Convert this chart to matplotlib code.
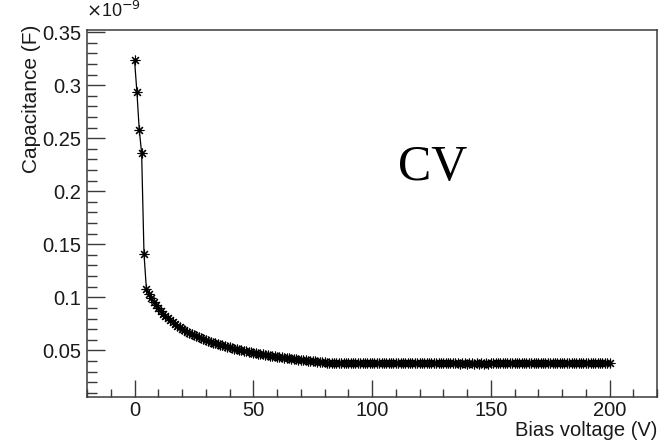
import numpy as np
import matplotlib
matplotlib.use("Agg")
import matplotlib.pyplot as plt
from matplotlib.ticker import MultipleLocator, FuncFormatter

# Bias voltage steps (V)
voltage = np.arange(0, 201)

# Capacitance in units of 1e-9 F
cap_nF = [
    0.324, 0.294, 0.258, 0.236, 0.141,
    0.108, 0.1034, 0.0994, 0.0957, 0.0925, 0.0896, 0.0869, 0.0844, 0.0822, 0.0801,
    0.0782, 0.0764, 0.0747, 0.0731, 0.0716, 0.0702, 0.0689, 0.0677, 0.0665, 0.0654,
    0.0643, 0.0633, 0.0623, 0.0614, 0.0605, 0.0597, 0.0589, 0.0581, 0.0573, 0.0566,
    0.0559, 0.0553, 0.0546, 0.0540, 0.0534, 0.0528, 0.0522, 0.0517, 0.0512, 0.0506,
    0.0501, 0.0497, 0.0492, 0.0487, 0.0483, 0.0479, 0.0474, 0.0470, 0.0466, 0.0462,
    0.0458, 0.0455, 0.0451, 0.0448, 0.0444, 0.0441, 0.0437, 0.0434, 0.0431, 0.0428,
    0.0425, 0.0422, 0.0419, 0.0416, 0.0413, 0.0411, 0.0408, 0.0405, 0.0403, 0.0400,
    0.0398, 0.0395, 0.0393, 0.0391, 0.0389, 0.0387, 0.0385, 0.0383, 0.0381, 0.0380,
    0.0379, 0.0378, 0.0380, 0.0377, 0.0379, 0.0378, 0.0376, 0.0379, 0.0378, 0.0380,
    0.0377, 0.0378, 0.0379, 0.0376, 0.0378, 0.0380, 0.0377, 0.0378, 0.0379, 0.0377,
    0.0378, 0.0380, 0.0377, 0.0379, 0.0378, 0.0376, 0.0378, 0.0379, 0.0377, 0.0378,
    0.0380, 0.0377, 0.0378, 0.0379, 0.0376, 0.0378, 0.0377, 0.0379, 0.0378, 0.0376,
    0.0378, 0.0377, 0.0379, 0.0378, 0.0376, 0.0377, 0.0378, 0.0376, 0.0377, 0.0378,
    0.0376, 0.0377, 0.0375, 0.0377, 0.0376, 0.0375, 0.0377, 0.0376, 0.0375, 0.0376,
    0.0375, 0.0376, 0.0374, 0.0376, 0.0375, 0.0377, 0.0376, 0.0378, 0.0377, 0.0379,
    0.0378, 0.0377, 0.0379, 0.0378, 0.0376, 0.0378, 0.0379, 0.0377, 0.0378, 0.0379,
    0.0377, 0.0378, 0.0380, 0.0378, 0.0377, 0.0379, 0.0378, 0.0376, 0.0378, 0.0379,
    0.0377, 0.0378, 0.0379, 0.0377, 0.0378, 0.0380, 0.0378, 0.0377, 0.0379, 0.0378,
    0.0376, 0.0378, 0.0379, 0.0377, 0.0378, 0.0379, 0.0377, 0.0378, 0.0380, 0.0378,
    0.0377, 0.0379, 0.0378, 0.0377, 0.0379, 0.0378,
]

x_label = "Bias voltage (V)"
y_label = "Capacitance (F)"
annotation = "CV"

FONT = "Liberation Sans"
plt.rcParams["font.family"] = [FONT, "DejaVu Sans"]

fig = plt.figure(figsize=(6.62, 4.42), dpi=100)
ax = fig.add_axes([87 / 662, 45 / 442, 570 / 662, 367 / 442])

ax.plot(voltage, cap_nF, color="black", lw=0.9,
        marker=(8, 2, 0), markersize=7, markeredgewidth=0.8,
        markeredgecolor="black", markerfacecolor="black")

ax.set_xlim(-20, 220)
ax.set_ylim(0.006, 0.352)

ax.xaxis.set_major_locator(MultipleLocator(50))
ax.xaxis.set_minor_locator(MultipleLocator(10))
ax.yaxis.set_major_locator(MultipleLocator(0.05))
ax.yaxis.set_minor_locator(MultipleLocator(0.01))
ax.yaxis.set_major_formatter(FuncFormatter(lambda v, p: "%g" % round(v, 4)))
ax.xaxis.set_major_formatter(FuncFormatter(lambda v, p: "%g" % v))

frame_col = "#3a3a3a"
ax.tick_params(which="both", direction="in", top=False, right=False,
               colors=frame_col, labelcolor="#1a1a1a", labelsize=14.5)
ax.tick_params(axis="y", which="major", length=13, width=1, pad=4)
ax.tick_params(axis="y", which="minor", length=7, width=1)
ax.tick_params(axis="x", which="major", length=12, width=1, pad=3)
ax.tick_params(axis="x", which="minor", length=6, width=1)
for s in ax.spines.values():
    s.set_linewidth(1.1)
    s.set_color(frame_col)

fig.text(86 / 662, 1 - 1 / 442, r"$\times$10$^{-9}$", ha="left", va="top",
         fontsize=13, color="#1a1a1a")
fig.text(32 / 662, 1 - 25 / 442, y_label, rotation=90, ha="center", va="top",
         fontsize=15, color="#1a1a1a")
fig.text(657 / 662, 1 - 440 / 442, x_label, ha="right", va="bottom",
         fontsize=14.5, color="#1a1a1a")
ax.text(0.607, 0.624, annotation, transform=ax.transAxes, ha="center",
        va="center", fontsize=36, family="Liberation Serif")

fig.savefig("out.png", dpi=100)
